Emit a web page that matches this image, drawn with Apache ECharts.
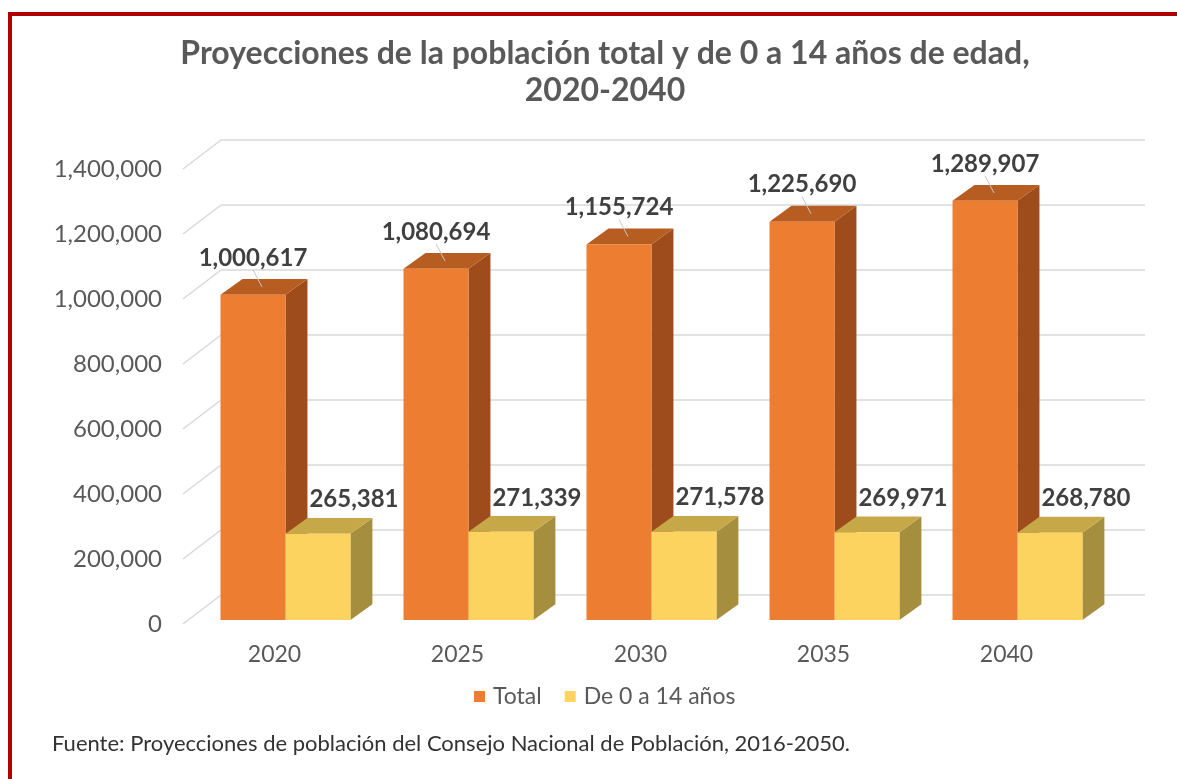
<!DOCTYPE html>
<html>
<head>
<meta charset="utf-8">
<script src="https://cdn.jsdelivr.net/npm/echarts@6/dist/echarts.min.js"></script>
<style>
  html, body { margin: 0; padding: 0; background: #fff; }
  #chart { width: 1177px; height: 779px; }
</style>
</head>
<body>
<div id="chart"></div>
<script>
var years = ['2020', '2025', '2030', '2035', '2040'];
var total = [1000617, 1080694, 1155724, 1225690, 1289907];
var ninos = [265381, 271339, 271578, 269971, 268780];
var yTicks = [0, 200000, 400000, 600000, 800000, 1000000, 1200000, 1400000];

var FONT = 'Lato, "Open Sans", sans-serif';
var DX = 38, DY = 29;     // depth of the floor / back wall

function fmt(v) {
    return String(v).replace(/\B(?=(\d{3})+(?!\d))/g, ',');
}

// draws one 3D box; slot 0 = Total, slot 1 = 0-14
function box(slot, colors, labelDx, labelDy, leader) {
    return function (params, api) {
        var i = api.value(0), v = api.value(1);
        var top = api.coord([i, v]);
        var bot = api.coord([i, 0]);
        var bw = api.size([1, 0])[0];
        var w = bw * 0.355, d = bw * 0.12, dh = d * 0.72;
        var x0 = top[0] - bw * 0.295 + slot * w;
        var x1 = x0 + w;
        var yb = bot[1] - 4;
        var yt = top[1] - 4;
        var cx = (x0 + x1) / 2;
        var kids = [
            { type: 'polygon', shape: { points: [[x1, yt], [x1 + d, yt - dh], [x1 + d, yb - dh], [x1, yb]] },
              style: { fill: colors[2] } },
            { type: 'polygon', shape: { points: [[x0, yt], [x0 + d, yt - dh], [x1 + d, yt - dh], [x1, yt]] },
              style: { fill: colors[1] } },
            { type: 'rect', shape: { x: x0, y: yt, width: w, height: yb - yt },
              style: { fill: colors[0] } }
        ];
        var ly = yt - labelDy;
        if (leader) {
            kids.push({ type: 'line', shape: { x1: cx + labelDx, y1: ly + 12, x2: cx + d / 2 - 2, y2: yt - dh / 2 },
                style: { stroke: '#c8c8c8', lineWidth: 1 } });
        }
        kids.push({ type: 'text', style: {
            text: fmt(v), x: cx + labelDx, y: ly, align: 'center', verticalAlign: 'middle',
            fill: '#404040', fontFamily: FONT, fontWeight: 'bold', fontSize: 24
        } });
        return { type: 'group', children: kids };
    };
}

var chart = echarts.init(document.getElementById('chart'));
var option = {
    backgroundColor: '#ffffff',
    animation: false,
    title: {
        text: 'Proyecciones de la población total y de 0 a 14 años de edad,\n2020-2040',
        left: 600, textAlign: 'center', top: 30,
        textStyle: { fontFamily: FONT, fontWeight: 'bold', fontSize: 32, color: '#595959', lineHeight: 37 }
    },
    legend: {
        left: 469, top: 680,
        icon: 'rect', itemWidth: 11, itemHeight: 11, itemGap: 23,
        data: ['Total', 'De 0 a 14 años'],
        textStyle: { fontFamily: FONT, fontSize: 23, color: '#595959', padding: [0, 0, 0, 3] }
    },
    graphic: [
        { type: 'rect', shape: { x: 10, y: 14, width: 1250, height: 900 },
          style: { fill: 'none', stroke: '#b00000', lineWidth: 4 } },
        { type: 'text', left: 52, top: 733,
          style: { text: 'Fuente: Proyecciones de población del Consejo Nacional de Población, 2016-2050.',
                   fill: '#333333', fontFamily: FONT, fontSize: 22 } }
    ],
    grid: [
        { left: 183, top: 169, width: 915, height: 455 },
        { left: 183 + DX, top: 169 - DY, width: 924, height: 455 }
    ],
    xAxis: [
        { type: 'category', data: years, gridIndex: 0,
          axisLine: { show: false }, axisTick: { show: false },
          axisLabel: { margin: 19, fontFamily: FONT, fontSize: 23, color: '#595959' } },
        { type: 'value', gridIndex: 1, min: 0, max: 1, show: false }
    ],
    yAxis: [
        { type: 'value', gridIndex: 0, min: 0, max: 1400000, interval: 200000,
          splitLine: { show: false }, axisLine: { show: false }, axisTick: { show: false },
          axisLabel: { margin: 21, fontFamily: FONT, fontSize: 24, color: '#595959',
                       formatter: function (v) { return fmt(v); } } },
        { type: 'value', gridIndex: 1, min: 0, max: 1400000, interval: 200000,
          axisLine: { show: false }, axisTick: { show: false }, axisLabel: { show: false },
          splitLine: { lineStyle: { color: '#d9d9d9', width: 1.5 } } }
    ],
    series: [
        {
            type: 'custom', name: 'floor', xAxisIndex: 0, yAxisIndex: 0, silent: true, clip: false,
            data: yTicks.map(function (v) { return [0, v]; }),
            renderItem: function (params, api) {
                var p = api.coord([0, api.value(1)]);
                var x = params.coordSys.x;
                return { type: 'line', shape: { x1: x, y1: p[1], x2: x + DX, y2: p[1] - DY },
                         style: { stroke: '#d9d9d9', lineWidth: 1.5 } };
            }
        },
        {
            type: 'custom', name: 'Total', xAxisIndex: 0, yAxisIndex: 0, clip: false,
            itemStyle: { color: '#ED7D31' },
            data: total.map(function (v, i) { return [i, v]; }),
            renderItem: box(0, ['#ED7D31', '#B75D22', '#9E4C1B'], 0, 37, true)
        },
        {
            type: 'custom', name: 'De 0 a 14 años', xAxisIndex: 0, yAxisIndex: 0, clip: false,
            itemStyle: { color: '#FFD45E' },
            data: ninos.map(function (v, i) { return [i, v]; }),
            renderItem: box(1, ['#FDD35F', '#C7A849', '#A68E3F'], 36, 34, false)
        }
    ]
};
chart.setOption(option);
</script>
</body>
</html>
